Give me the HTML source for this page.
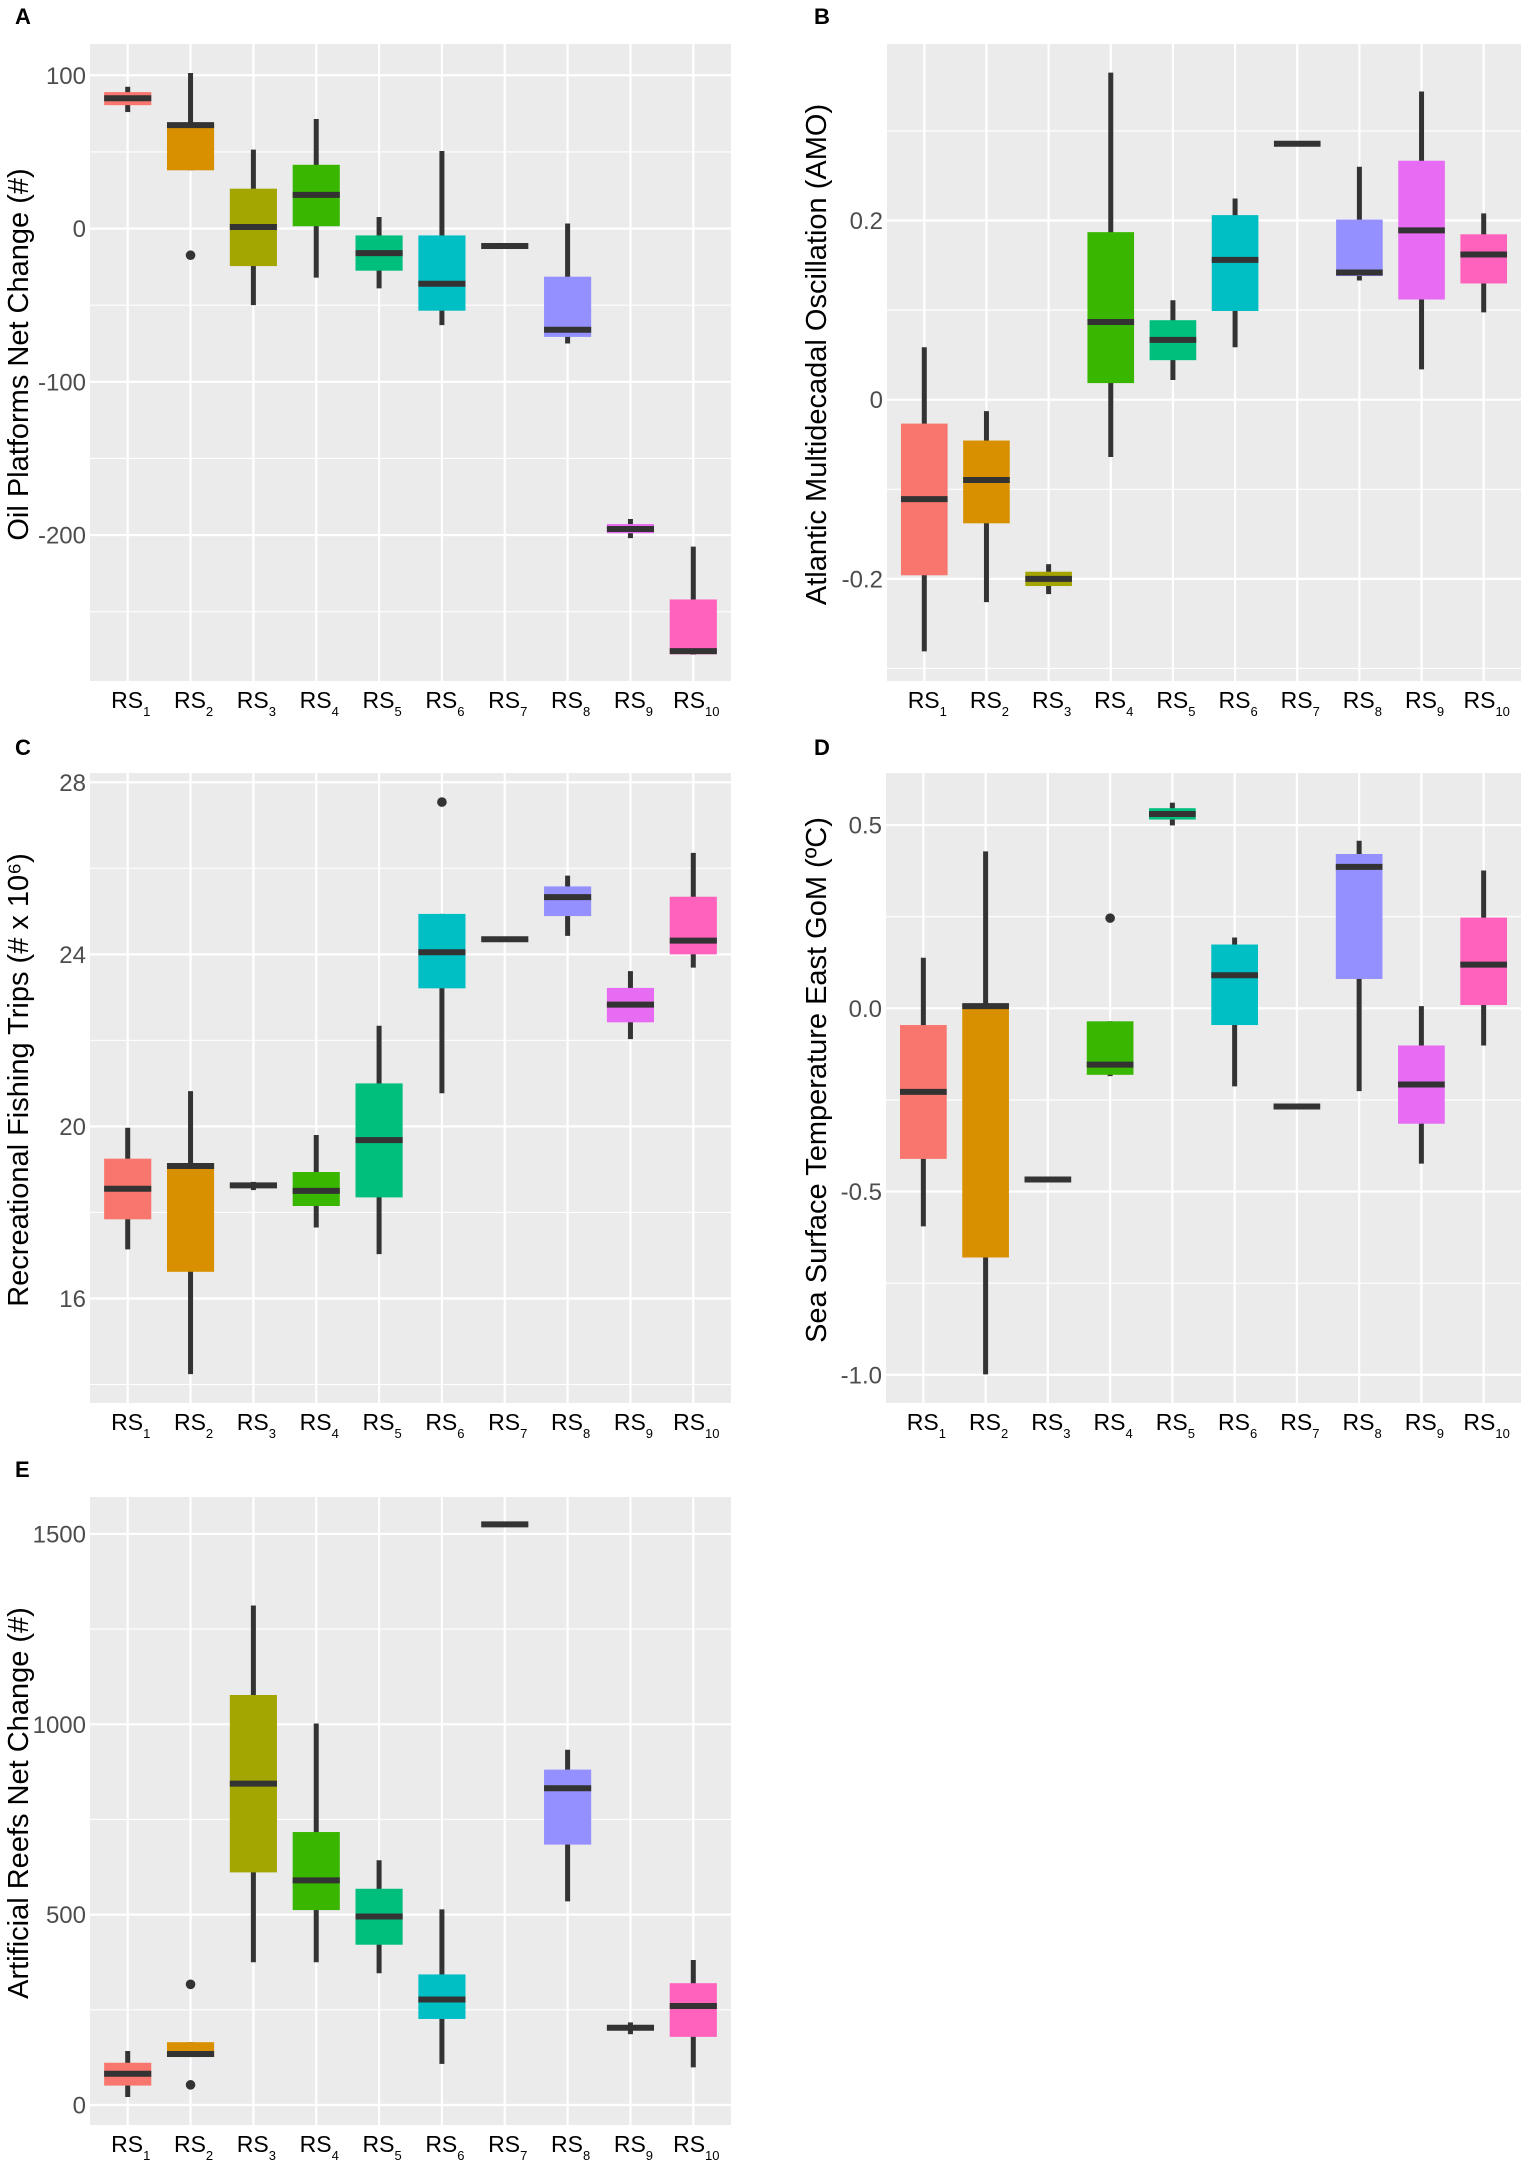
<!DOCTYPE html>
<html><head><meta charset="utf-8"><style>
html,body{margin:0;padding:0;background:#fff;}
svg{display:block;font-family:"Liberation Sans",Arial,sans-serif;}
</style></head><body>
<svg id="fig" width="1535" height="2170" viewBox="0 0 1535 2170" xmlns="http://www.w3.org/2000/svg"></svg>
<script>
const categories=["1","2","3","4","5","6","7","8","9","10"];
const colors=["#F8766D","#D89000","#A3A500","#39B600","#00BF7D","#00BFC4","#00B0F6","#9590FF","#E76BF3","#FF62BC"];
// Panel A
const minA=[76,38,-50,-32,-39,-63,-11.4,-75,-202,-278];
const q1A=[80.5,38,-24.5,1.5,-27.5,-53.6,-11.4,-70.7,-198.8,-277.8];
const medA=[85,67.5,1,22,-16,-36,-11.4,-66,-196,-275.7];
const q3A=[89,68.5,26,41.6,-4.5,-4.5,-11.4,-31.4,-192.8,-242];
const maxA=[92.5,101.5,51.5,71.5,7.5,50.6,-11.4,3.3,-189.5,-207.5];
const outCatA=[1]; const outValA=[-17.4];
const ticksA=[-200,-100,0,100]; const tickLabA=["-200","-100","0","100"]; const minorA=[-250,-150,-50,50];
// Panel B
const minB=[-0.281,-0.226,-0.217,-0.064,0.022,0.0585,0.2856,0.133,0.0338,0.0974];
const q1B=[-0.196,-0.138,-0.208,0.0185,0.0441,0.099,0.2856,0.138,0.1118,0.1297];
const medB=[-0.111,-0.0897,-0.2,0.0867,0.0667,0.156,0.2856,0.142,0.189,0.162];
const q3B=[-0.0267,-0.0456,-0.192,0.187,0.0887,0.206,0.2856,0.201,0.2667,0.1846];
const maxB=[0.0585,-0.0128,-0.1836,0.365,0.111,0.2246,0.2856,0.26,0.344,0.208];
const outCatB=[]; const outValB=[];
const ticksB=[-0.2,0,0.2]; const tickLabB=["-0.2","0","0.2"]; const minorB=[-0.3,-0.1,0.1,0.3];
// Panel C
const minC=[17.14,14.24,18.52,17.65,17.03,20.77,24.35,24.43,22.03,23.69];
const q1C=[17.84,16.62,18.57,18.15,18.35,23.21,24.35,24.89,22.42,24.0];
const medC=[18.55,19.08,18.63,18.5,19.68,24.05,24.35,25.33,22.83,24.32];
const q3C=[19.25,19.14,18.68,18.94,21.0,24.94,24.35,25.58,23.22,25.34];
const maxC=[19.97,20.82,18.71,19.8,22.34,24.94,24.35,25.83,23.61,26.36];
const outCatC=[5]; const outValC=[27.54];
const ticksC=[16,20,24,28]; const tickLabC=["16","20","24","28"]; const minorC=[14,18,22,26];
// Panel D
const minD=[-0.595,-0.999,-0.467,-0.185,0.499,-0.213,-0.268,-0.226,-0.424,-0.1015];
const q1D=[-0.411,-0.68,-0.467,-0.1815,0.515,-0.0457,-0.268,0.08,-0.315,0.0089];
const medD=[-0.228,0.006,-0.467,-0.1536,0.53,0.09,-0.268,0.386,-0.208,0.119];
const q3D=[-0.0457,0.0127,-0.467,-0.0355,0.546,0.174,-0.268,0.421,-0.1015,0.2475];
const maxD=[0.138,0.428,-0.467,-0.0355,0.561,0.193,-0.268,0.457,0.006,0.376];
const outCatD=[3]; const outValD=[0.246];
const ticksD=[-1,-0.5,0,0.5]; const tickLabD=["-1.0","-0.5","0.0","0.5"]; const minorD=[-0.75,-0.25,0.25];
// Panel E
const minE=[21,126,375,375,346,108,1525,535,186,99];
const q1E=[51,126,611,512,421,226,1525,684,196,179];
const medE=[82,134,844,590,495,277,1525,832,203,260];
const q3E=[111,165,1077,717,568,343,1525,881,209,320];
const maxE=[142,165,1312,1002,643,514,1525,933,217,381];
const outCatE=[1,1]; const outValE=[317,53];
const ticksE=[0,500,1000,1500]; const tickLabE=["0","500","1000","1500"]; const minorE=[250,750,1250];

const NS="http://www.w3.org/2000/svg";
const svg=document.getElementById('fig');
function mk(tag,attrs,parent){const e=document.createElementNS(NS,tag);for(const k in attrs)e.setAttribute(k,attrs[k]);(parent||svg).appendChild(e);return e;}

function panel(p){
  const g=mk('g',{});
  
  
  const W=p.x1-p.x0,H=p.y1-p.y0;
  const xs=i=>p.x0+(i+0.6)*W/10.2;
  const ys=v=>p.y1-(v-p.dmin)/(p.dmax-p.dmin)*H;
  const bw=0.75*W/10.2;
  const bg=mk('rect',{x:p.x0,y:p.y0,width:W,height:H,fill:'#EBEBEB'},g);
  
  
  p.minor.forEach(v=>{const l=mk('line',{x1:p.x0,x2:p.x1,y1:ys(v),y2:ys(v),stroke:'#fff','stroke-width':1.1},g);
    
    });
  p.ticks.forEach((v,k)=>{const l=mk('line',{x1:p.x0,x2:p.x1,y1:ys(v),y2:ys(v),stroke:'#fff','stroke-width':2.2},g);
    
    
    const t=mk('text',{x:p.x0-4,y:ys(v)+8.5,'text-anchor':'end','font-size':24,fill:'#4D4D4D'},g);
    t.textContent=p.tickLab[k];
    
    });
  categories.forEach((c,i)=>{const l=mk('line',{x1:xs(i),x2:xs(i),y1:p.y0,y2:p.y1,stroke:'#fff','stroke-width':2.2},g);
    
    
    const t=mk('text',{x:xs(i)+3,y:p.y1+27,'text-anchor':'middle','font-size':23,fill:'#000'},g);
    
    
    const a=mk('tspan',{},t);a.textContent='RS';
    const b=mk('tspan',{'font-size':13,dy:8},t);b.textContent=c;});
  categories.forEach((c,i)=>{
    const x=xs(i);
    const w=mk('line',{x1:x,x2:x,y1:ys(p.max[i]),y2:ys(p.min[i]),stroke:'#333','stroke-width':5},g);
    
    
    const top=ys(p.q3[i]),bot=ys(p.q1[i]);
    const r=mk('rect',{x:x-bw/2,y:top,width:bw,height:Math.max(0,bot-top),fill:colors[i]},g);
    
    
    const m=mk('line',{x1:x-bw/2,x2:x+bw/2,y1:ys(p.med[i]),y2:ys(p.med[i]),stroke:'#333','stroke-width':6},g);
    
    
  });
  p.outCat.forEach((ci,k)=>{const o=mk('circle',{cx:xs(ci),cy:ys(p.outVal[k]),r:4.8,fill:'#333'},g);
    
    });
  const tx=p.titleX,ty=(p.y0+p.y1)/2-8;
  const tt=mk('text',{x:tx,y:ty,'text-anchor':'middle','font-size':29,fill:'#000',transform:`rotate(-90 ${tx} ${ty})`,dy:10},g);
  tt.textContent=p.title;
  
  
  const lt=mk('text',{x:p.lx,y:p.ly,'font-size':22,'font-weight':'bold',fill:'#000'},g);
  lt.textContent=p.id;
  
  
}
panel({id:'A',x0:90,x1:731,y0:44,y1:681,dmin:-295.2,dmax:120.4,min:minA,q1:q1A,med:medA,q3:q3A,max:maxA,outCat:outCatA,outVal:outValA,ticks:ticksA,tickLab:tickLabA,minor:minorA,title:'Oil Platforms Net Change (#)',titleX:18,lx:15,ly:24});
panel({id:'B',x0:887,x1:1521,y0:44,y1:681,dmin:-0.314,dmax:0.397,min:minB,q1:q1B,med:medB,q3:q3B,max:maxB,outCat:outCatB,outVal:outValB,ticks:ticksB,tickLab:tickLabB,minor:minorB,title:'Atlantic Multidecadal Oscillation (AMO)',titleX:816,lx:814,ly:24});
panel({id:'C',x0:90,x1:731,y0:773,y1:1403,dmin:13.57,dmax:28.216,min:minC,q1:q1C,med:medC,q3:q3C,max:maxC,outCat:outCatC,outVal:outValC,ticks:ticksC,tickLab:tickLabC,minor:minorC,title:'Recreational Fishing Trips (# x 10⁶)',titleX:18,lx:15,ly:755});
panel({id:'D',x0:886,x1:1521,y0:773,y1:1403,dmin:-1.077,dmax:0.642,min:minD,q1:q1D,med:medD,q3:q3D,max:maxD,outCat:outCatD,outVal:outValD,ticks:ticksD,tickLab:tickLabD,minor:minorD,title:'Sea Surface Temperature East GoM (ºC)',titleX:816,lx:814,ly:755});
panel({id:'E',x0:90,x1:731,y0:1497,y1:2125,dmin:-52.5,dmax:1597,min:minE,q1:q1E,med:medE,q3:q3E,max:maxE,outCat:outCatE,outVal:outValE,ticks:ticksE,tickLab:tickLabE,minor:minorE,title:'Artificial Reefs Net Change (#)',titleX:18,lx:15,ly:1477});
</script>
</body></html>
